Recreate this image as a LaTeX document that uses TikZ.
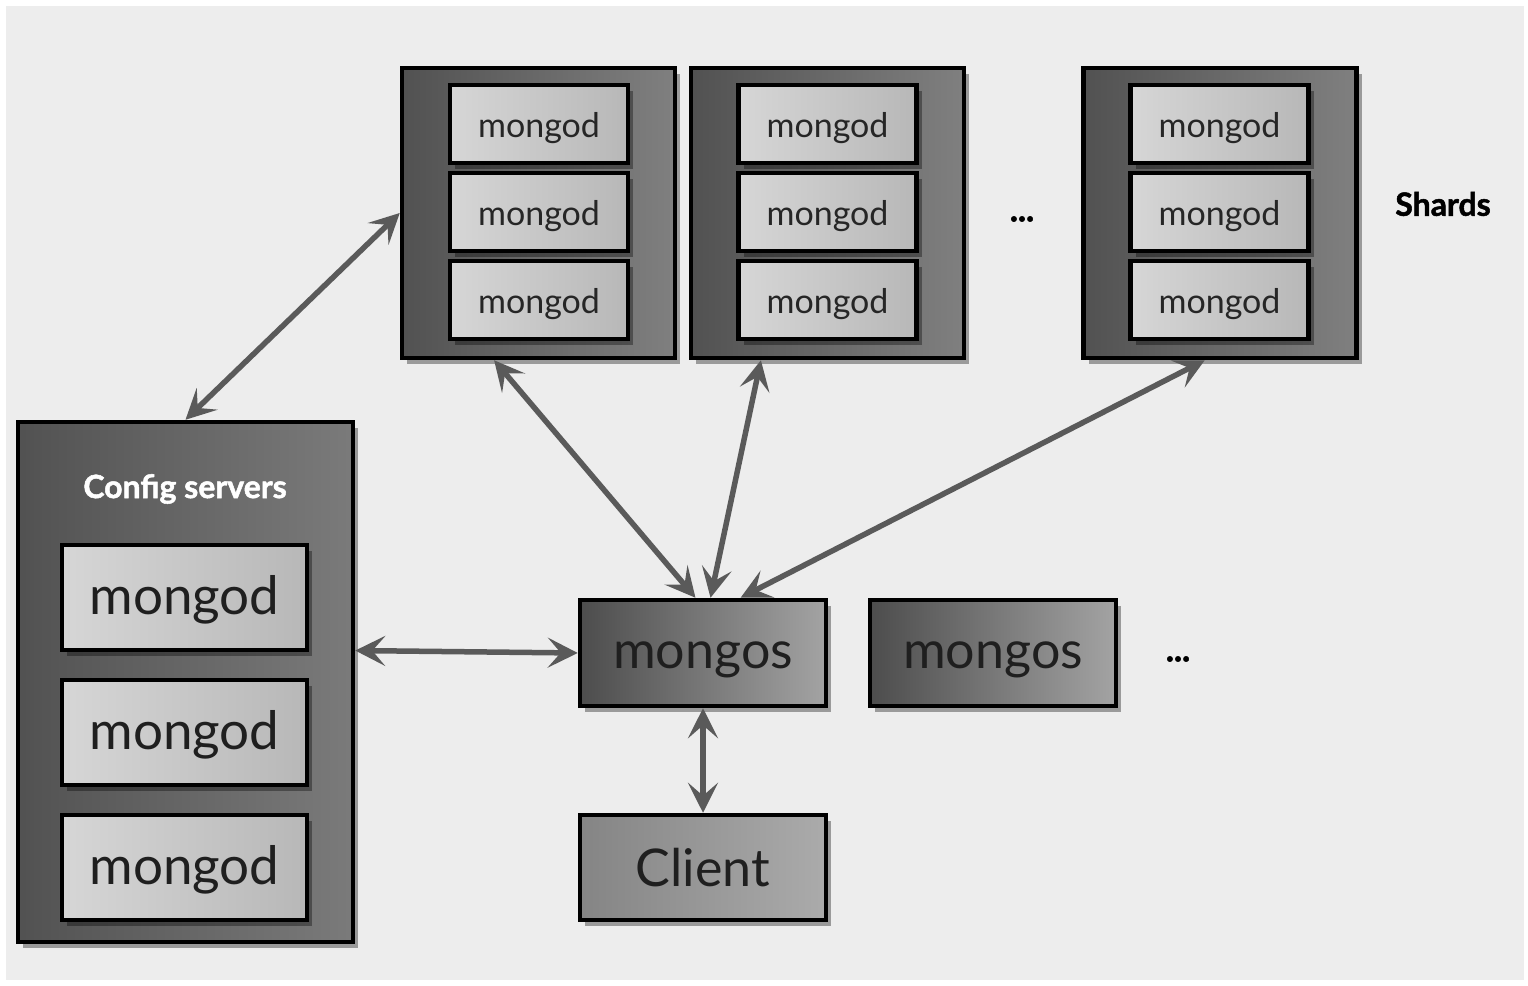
\documentclass[tikz,border=0pt]{standalone}
\usepackage{fontspec}
\setmainfont{Lato}
\newfontfamily\heavyfont{Lato}[FakeBold=1.6]
\usetikzlibrary{shadows,arrows.meta,calc}
\definecolor{bgc}{HTML}{EDEDED}
\definecolor{arr}{HTML}{5A5A5A}
\newcommand{\dn}[2]{\raisebox{-#1pt}[\height][\depth]{#2}}
\tikzset{
  boxbase/.style={rectangle, draw=black, line width=4.5pt, inner sep=0pt,
    drop shadow={shadow xshift=5pt, shadow yshift=-6pt, opacity=0.35, fill=black}},
  shardbox/.style={boxbase, left color=black!68, right color=black!50,
    minimum width=273pt, minimum height=290pt},
  smallmongod/.style={boxbase, left color=black!16, right color=black!28,
    minimum width=178pt, minimum height=78pt, font=\fontsize{34}{34}\selectfont, text=black!85},
  bigmongod/.style={boxbase, left color=black!16, right color=black!28,
    minimum width=245pt, minimum height=105pt, font=\fontsize{53}{53}\selectfont, text=black!88},
  cfgbox/.style={boxbase, left color=black!68, right color=black!52,
    minimum width=335pt, minimum height=520pt},
  mongosbox/.style={boxbase, left color=black!70, right color=black!36,
    minimum width=246pt, minimum height=106pt, font=\fontsize{52}{52}\selectfont, text=black!88},
  clientbox/.style={boxbase, left color=black!48, right color=black!33,
    minimum width=246pt, minimum height=105pt, font=\fontsize{52}{52}\selectfont, text=black!88},
  conn/.style={draw=arr, line width=5.5pt,
    {Stealth[length=30pt,width=30pt,inset=13pt]}-{Stealth[length=30pt,width=30pt,inset=13pt]}},
  lbl/.style={font=\heavyfont\bfseries\fontsize{32}{32}\selectfont},
  dots/.style={font=\heavyfont\bfseries\fontsize{34}{34}\selectfont}
}
\begin{document}
\begin{tikzpicture}[x=1pt,y=-1pt]
\useasboundingbox (0,0) rectangle (1528,985);
\fill[white] (0,0) rectangle (1528,985);
\fill[bgc] (6,6) rectangle (1524,980);

% shards
\node[shardbox] (s1) at (538.5,213) {};
\node[smallmongod] (s1a) at (539,124) {\dn{4}{mongod}};
\node[smallmongod] (s1b) at (539,212) {\dn{4}{mongod}};
\node[smallmongod] (s1c) at (539,300) {\dn{4}{mongod}};

\node[shardbox] (s2) at (827.5,213) {};
\node[smallmongod] (s2a) at (827.5,124) {\dn{4}{mongod}};
\node[smallmongod] (s2b) at (827.5,212) {\dn{4}{mongod}};
\node[smallmongod] (s2c) at (827.5,300) {\dn{4}{mongod}};

\node[shardbox] (s3) at (1220,213) {};
\node[smallmongod] (s3a) at (1219.5,124) {\dn{4}{mongod}};
\node[smallmongod] (s3b) at (1219.5,212) {\dn{4}{mongod}};
\node[smallmongod] (s3c) at (1219.5,300) {\dn{4}{mongod}};

\node[dots] (sdots) at (1022,219) {...};
\node[lbl] (shards) at (1443,204) {Shards};

% config servers
\node[cfgbox] (cfg) at (185.5,682) {};
\node[lbl, text=white] (cfgt) at (185,489) {Config servers};
\node[bigmongod] (c1) at (184.5,597.5) {\dn{2}{mongod}};
\node[bigmongod] (c2) at (184.5,732.5) {\dn{2}{mongod}};
\node[bigmongod] (c3) at (184.5,867.5) {\dn{2}{mongod}};

% mongos and client
\node[mongosbox] (m1) at (703,653) {\dn{7}{mongos}};
\node[mongosbox] (m2) at (993,653) {\dn{7}{mongos}};
\node[dots] (mdots) at (1178,659) {...};
\node[clientbox] (cl) at (703,867.5) {Client};

% connectors
\draw[conn] (cfg.north) -- (s1.west);
\draw[conn] ($(s1.south west)!0.34!(s1.south east)$) -- ($(m1.north west)!0.47!(m1.north east)$);
\draw[conn] ($(s2.south west)!0.26!(s2.south east)$) -- ($(m1.north west)!0.53!(m1.north east)$);
\draw[conn] ($(s3.south west)!0.445!(s3.south east)$) -- ($(m1.north west)!0.65!(m1.north east)$);
\draw[conn] ($(cfg.north east)!0.44!(cfg.south east)$) -- (m1.west);
\draw[conn] (m1.south) -- (cl.north);
\end{tikzpicture}
\end{document}
